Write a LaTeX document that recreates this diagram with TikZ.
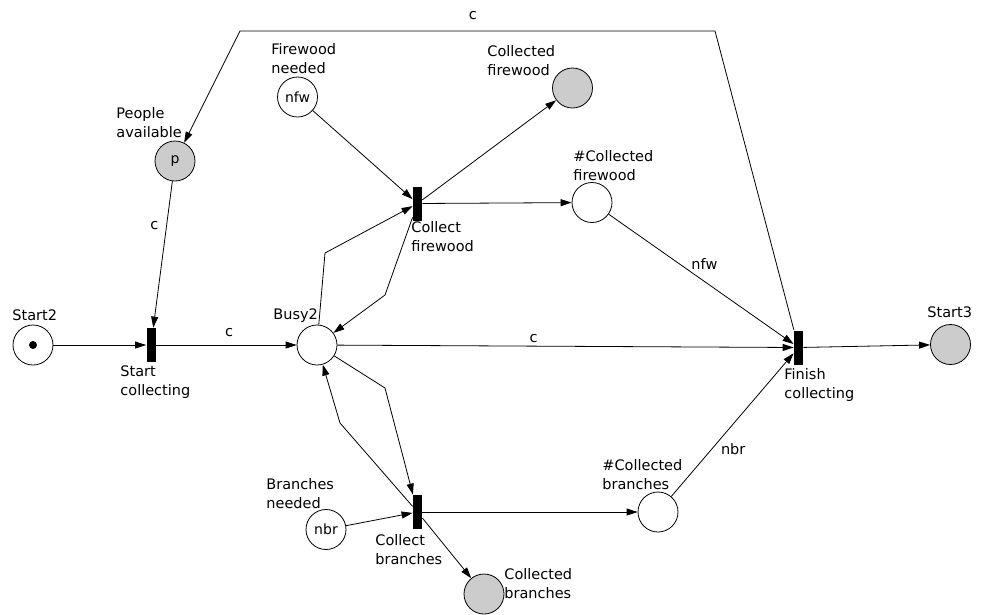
\documentclass[tikz,border=0pt]{standalone}
\usepackage{fontspec}
\setmainfont{DejaVu Sans}
\usetikzlibrary{arrows.meta}
\usetikzlibrary{positioning}

\begin{document}
\begin{tikzpicture}[x=1pt,y=-1pt,->,>={Triangle[length=11pt,width=7pt]},line width=0.8pt,
  font=\fontsize{14.5}{19}\selectfont,
  place/.style={circle,draw,minimum size=40pt,inner sep=0pt,font=\fontsize{14}{16}\selectfont},
  full place/.style={place,fill=black!20},
  trans/.style={rectangle,fill=black,minimum width=9pt,minimum height=34pt,inner sep=0pt},
  tag/.style={align=left,anchor=north west,inner sep=0pt},
  arc label/.style={inner sep=2pt}]

  \useasboundingbox (0,0) rectangle (981,614);

  % places
  \node[place] (start2) at (33,345) {};
  \node[circle,fill,minimum size=8pt,inner sep=0pt] (tok) at (start2) {};
  \node[full place] (people) at (175,161) {p};
  \node[place] (fwneed) at (297.5,97) {nfw};
  \node[full place] (fwdone) at (572.5,88) {};
  \node[place] (fwcount) at (592,202.5) {};
  \node[place] (busy) at (317,345) {};
  \node[full place] (start3) at (950.5,344.5) {};
  \node[place] (brneed) at (326,529.5) {nbr};
  \node[place] (brcount) at (658,512) {};
  \node[full place] (brdone) at (484,594) {};

  % transitions
  \node[trans] (stcoll) at (151,345) {};
  \node[trans] (fwcoll) at (417.5,203.5) {};
  \node[trans] (brcoll) at (417.5,512) {};
  \node[trans] (fincoll) at (798.5,347.5) {};

  % names
  \node[tag] (l-start2) at (12,309) {Start2};
  \node[tag] (l-people) at (116,107) {People\\available};
  \node[tag] (l-fwneed) at (271,43) {Firewood\\needed};
  \node[tag] (l-fwdone) at (487,45) {Collected\\firewood};
  \node[tag] (l-fwcount) at (573,150) {\#Collected\\firewood};
  \node[tag] (l-fwcoll) at (411,221) {Collect\\firewood};
  \node[tag] (l-busy) at (273,308) {Busy2};
  \node[tag] (l-stcoll) at (120,365) {Start\\collecting};
  \node[tag] (l-start3) at (927,306) {Start3};
  \node[tag] (l-fincoll) at (784,368) {Finish\\collecting};
  \node[tag] (l-brcount) at (602,459) {\#Collected\\branches};
  \node[tag] (l-brneed) at (266,478) {Branches\\needed};
  \node[tag] (l-brcoll) at (375,534) {Collect\\branches};
  \node[tag] (l-brdone) at (504,568) {Collected\\branches};

  % bends
  \coordinate (topright) at (715,31);
  \coordinate (topleft) at (240,31);
  \coordinate (fwup) at (325,253);
  \coordinate (fwback) at (385,295);
  \coordinate (brdown) at (385,388);
  \coordinate (brback) at (340,423);

  \path[every node/.style={arc label}]
    (start2) edge (stcoll)
    (stcoll) edge node[pos=0.52,above=6pt] {c} (busy)
    (people) edge node[pos=0.3,left=6pt] {c} (stcoll)
    (fwneed) edge (fwcoll)
    (fwcoll) edge (fwdone)
    (fwcoll) edge (fwcount)
    (fwcount) edge node[pos=0.44,anchor=south west,inner sep=1pt] {nfw} (fincoll)
    (busy) edge node[pos=0.43,above=1pt] {c} (fincoll)
    (fincoll) edge (start3)
    (brneed) edge (brcoll)
    (brcoll) edge (brcount)
    (brcoll) edge (brdone)
    (brcount) edge node[pos=0.33,right=7pt] {nbr} (fincoll);

  \draw (fincoll) -- (topright) -- node[arc label,pos=0.51,above=9pt] {c} (topleft) -- (people);
  \draw (busy) -- (fwup) -- (fwcoll);
  \draw (fwcoll) -- (fwback) -- (busy);
  \draw (busy) -- (brdown) -- (brcoll);
  \draw (brcoll) -- (brback) -- (busy);
\end{tikzpicture}
\end{document}
